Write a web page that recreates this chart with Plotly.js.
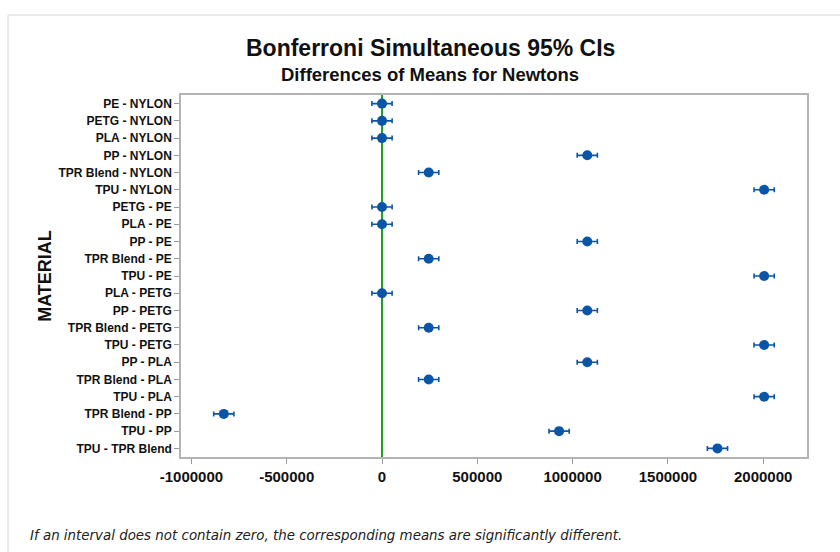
<!DOCTYPE html>
<html>
<head>
<meta charset="utf-8">
<script src="https://cdn.plot.ly/plotly-3.0.1.min.js"></script>
<style>html,body{margin:0;padding:0;background:#fff;}#chart{width:840px;height:552px;}</style>
</head>
<body>
<div id="chart"></div>
<script>
// Pairwise comparisons (rows, top to bottom)
var comparisons = [
  "PE - NYLON", "PETG - NYLON", "PLA - NYLON", "PP - NYLON", "TPR Blend - NYLON", "TPU - NYLON",
  "PETG - PE", "PLA - PE", "PP - PE", "TPR Blend - PE", "TPU - PE",
  "PLA - PETG", "PP - PETG", "TPR Blend - PETG", "TPU - PETG",
  "PP - PLA", "TPR Blend - PLA", "TPU - PLA",
  "TPR Blend - PP", "TPU - PP", "TPU - TPR Blend"
];
// Estimated difference of means (Newtons)
var meanDiff = [
  0, 0, 0, 1077000, 245000, 2005000,
  0, 0, 1077000, 245000, 2005000,
  0, 1077000, 245000, 2005000,
  1077000, 245000, 2005000,
  -830000, 929000, 1760000
];
// Half-width of the Bonferroni simultaneous 95% interval
var halfWidth = [
  53000, 53000, 53000, 53000, 53000, 53000,
  53000, 53000, 53000, 53000, 53000,
  53000, 53000, 53000, 53000,
  53000, 53000, 53000,
  53000, 53000, 53000
];
var xTickVals = [-1000000, -500000, 0, 500000, 1000000, 1500000, 2000000];
var xTickText = ["-1000000", "-500000", "0", "500000", "1000000", "1500000", "2000000"];

var blue = "#0b55a6";
var trace = {
  type: "scatter",
  mode: "markers",
  x: meanDiff,
  y: comparisons,
  marker: {color: blue, size: 10},
  error_x: {type: "data", array: halfWidth, visible: true, color: blue, thickness: 1.6, width: 2.5},
  hoverinfo: "x+y",
  showlegend: false
};

var FONT = "Liberation Sans, Arial, sans-serif";
var layout = {
  width: 840, height: 552,
  paper_bgcolor: "#ffffff", plot_bgcolor: "#ffffff",
  margin: {l: 181, r: 33, t: 95, b: 95},
  font: {family: FONT, color: "#111"},
  xaxis: {
    range: [-1054600, 2229800],
    tickvals: xTickVals, ticktext: xTickText,
    showgrid: false,
    zeroline: true, zerolinecolor: "#1e9e2a", zerolinewidth: 1.6,
    showline: true, linecolor: "#b3b3b3", linewidth: 1.5, mirror: true,
    ticks: "outside", ticklen: 5, tickcolor: "#999", tickwidth: 1,
    tickfont: {family: FONT, size: 15, color: "#111", weight: "bold"}
  },
  yaxis: {
    type: "category",
    categoryorder: "array", categoryarray: comparisons,
    range: [20.5, -0.5],
    showgrid: false, zeroline: false,
    showline: true, linecolor: "#b3b3b3", linewidth: 1.5, mirror: true,
    ticks: "outside", ticklen: 5, tickcolor: "#999", tickwidth: 1,
    tickfont: {family: FONT, size: 12, color: "#111", weight: "bold"},
    title: {text: "MATERIAL", font: {family: FONT, size: 18, color: "#111", weight: "bold"}, standoff: 2}
  },
  annotations: [
    {text: "Bonferroni Simultaneous 95% CIs", xref: "paper", yref: "paper",
     x: (430 - 181) / 626, y: (457 - 48) / 362, xanchor: "center", yanchor: "middle",
     showarrow: false, font: {family: FONT, size: 23, color: "#111", weight: "bold"}},
    {text: "Differences of Means for Newtons", xref: "paper", yref: "paper",
     x: (430 - 181) / 626, y: (457 - 75) / 362, xanchor: "center", yanchor: "middle",
     showarrow: false, font: {family: FONT, size: 18.5, color: "#111", weight: "bold"}},
    {text: "If an interval does not contain zero, the corresponding means are significantly different.",
     xref: "paper", yref: "paper",
     x: (28 - 181) / 626, y: (457 - 535) / 362, xanchor: "left", yanchor: "middle",
     showarrow: false, font: {family: "DejaVu Sans, Verdana, sans-serif", size: 13.4, color: "#222", style: "italic"}}
  ],
  shapes: [
    {type: "rect", xref: "paper", yref: "paper",
     x0: (8 - 181) / 626, x1: (860 - 181) / 626,
     y0: (457 - 580) / 362, y1: (457 - 15) / 362,
     line: {color: "#d6d6d6", width: 1}, fillcolor: "rgba(0,0,0,0)", layer: "below"}
  ]
};

Plotly.newPlot("chart", [trace], layout, {displayModeBar: false, responsive: false});
</script>
</body>
</html>
